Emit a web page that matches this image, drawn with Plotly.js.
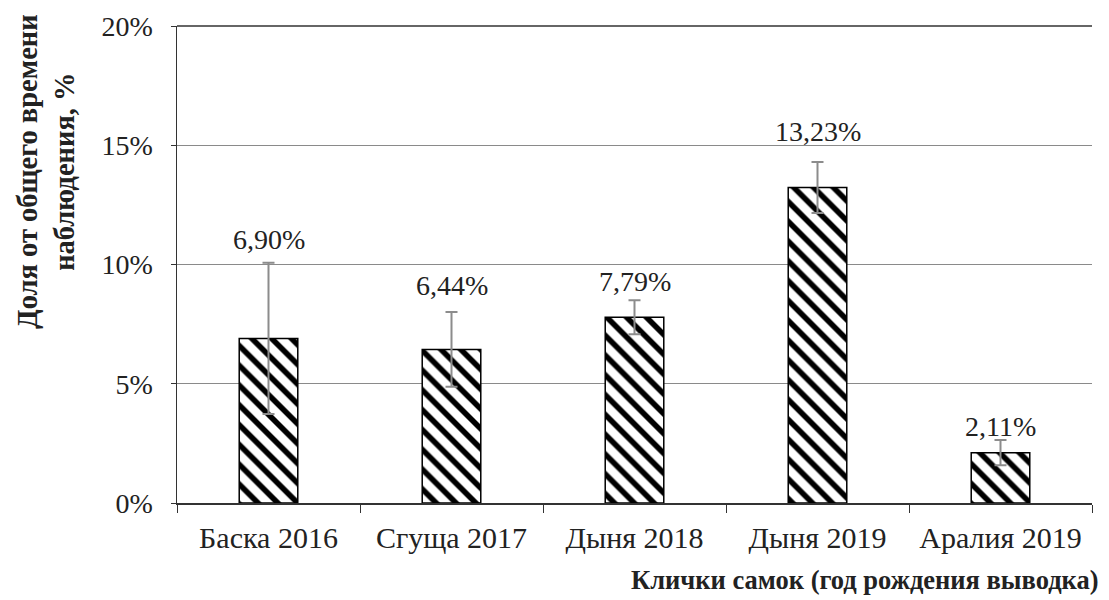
<!DOCTYPE html>
<html>
<head>
<meta charset="utf-8">
<script src="https://cdn.plot.ly/plotly-3.0.1.min.js"></script>
<style>html,body{margin:0;padding:0;background:#fff;}#chart{width:1109px;height:600px;}</style>
</head>
<body>
<div id="chart"></div>
<script>
const categories = ["Баска 2016", "Сгуща 2017", "Дыня 2018", "Дыня 2019", "Аралия 2019"];
const values = [6.90, 6.44, 7.79, 13.23, 2.11];
const errors = [3.17, 1.57, 0.71, 1.07, 0.53];
const labelY = [11.03, 9.14, 9.27, 15.56, 3.19];
const yTickVals = [0, 5, 10, 15, 20];
const yTickText = ["0%", "5%", "10%", "15%", "20%"];

const serif = "Liberation Serif";

const trace = {
  type: "bar",
  x: categories,
  y: values,
  width: 0.32,
  marker: {
    color: "#ffffff",
    line: {color: "#000000", width: 1.5},
    pattern: {shape: "\\", fgcolor: "#000000", bgcolor: "#ffffff", size: 14, solidity: 0.4, fillmode: "replace"}
  },
  error_y: {type: "data", array: errors, visible: true, color: "#8c8c8c", thickness: 2, width: 6},
  hoverinfo: "skip"
};

const annotations = categories.map((c, i) => ({
  x: c, y: labelY[i], xref: "x", yref: "y",
  text: values[i].toFixed(2).replace(".", ",") + "%",
  showarrow: false, xanchor: "center", yanchor: "middle",
  font: {family: serif, size: 28, color: "#222"}
}));

annotations.push({
  xref: "paper", yref: "paper", x: 1, y: 0, xshift: 9, yshift: -77,
  xanchor: "right", yanchor: "middle", showarrow: false,
  text: "<b>Клички самок (год рождения выводка)</b>",
  font: {family: serif, size: 26.5, color: "#222"}
});
annotations.push({
  xref: "paper", yref: "paper", x: 0, y: 0.694, xshift: -131,
  xanchor: "center", yanchor: "middle", showarrow: false, textangle: -90,
  text: "<b>Доля от общего времени<br>наблюдения, %</b>",
  font: {family: serif, size: 28.5, color: "#222"}
});

const layout = {
  width: 1109, height: 600,
  margin: {l: 177, r: 17, t: 26, b: 97, pad: 0},
  paper_bgcolor: "#fff", plot_bgcolor: "#fff",
  showlegend: false,
  font: {family: serif},
  xaxis: {
    type: "category",
    tickson: "boundaries",
    ticks: "outside", ticklen: 8, tickcolor: "#333", tickwidth: 1,
    showline: true, linecolor: "#333", linewidth: 1.5,
    showgrid: false,
    tickfont: {family: serif, size: 30, color: "#222"},
    ticklabelstandoff: 7
  },
  yaxis: {
    range: [0, 20],
    tickvals: yTickVals, ticktext: yTickText,
    ticks: "outside", ticklen: 5, tickcolor: "#333",
    showline: true, linecolor: "#333", linewidth: 1.5,
    showgrid: true, gridcolor: "#8a8a8a", gridwidth: 1,
    zeroline: false,
    tickfont: {family: serif, size: 28, color: "#222"},
    ticklabelstandoff: 12
  },
  shapes: [{type: "line", xref: "paper", yref: "paper", x0: 0, x1: 1, y0: 1, y1: 1, line: {color: "#333", width: 1.5}}],
  annotations: annotations
};

Plotly.newPlot("chart", [trace], layout, {displayModeBar: false, staticPlot: true});
</script>
</body>
</html>
